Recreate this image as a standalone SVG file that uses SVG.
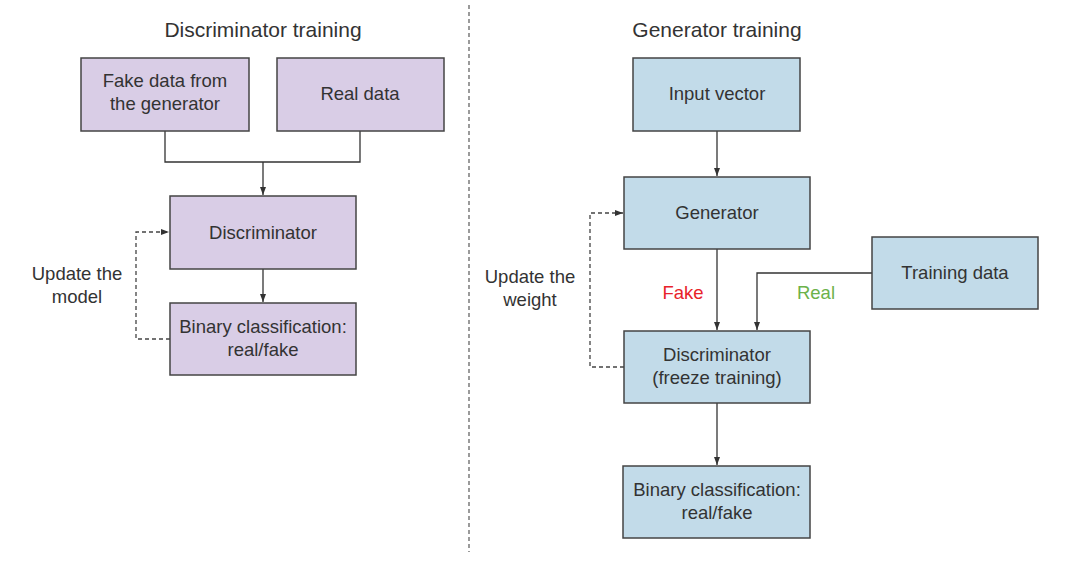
<svg xmlns="http://www.w3.org/2000/svg" width="1077" height="583" viewBox="0 0 1077 583">
<defs>
<style>
text{font-family:"Liberation Sans",Arial,sans-serif;fill:#333;text-anchor:middle}
.t{font-size:21px}
.n{font-size:18.5px}
.p{fill:#d9cde6;stroke:#444;stroke-width:1.5}
.b{fill:#c2dbe9;stroke:#444;stroke-width:1.5}
.c{fill:none;stroke:#333;stroke-width:1.3}
.d{fill:none;stroke:#444;stroke-width:1.3;stroke-dasharray:4 3}
</style>
<marker id="ah" viewBox="0 0 10 10" refX="10" refY="5" markerWidth="8" markerHeight="6" orient="auto" markerUnits="userSpaceOnUse" preserveAspectRatio="none"><path d="M0,0 L10,5 L0,10 z" fill="#333"/></marker>
</defs>
<rect width="1077" height="583" fill="#fff"/>
<line x1="469" y1="5" x2="469" y2="552" stroke="#666" stroke-width="1.3" stroke-dasharray="4 3"/>
<text class="t" x="263" y="37">Discriminator training</text>
<text class="t" x="717" y="37">Generator training</text>
<g id="connectors">
<polyline class="c" points="165,131 165,162 360,162 360,131"/>
<line class="c" x1="263" y1="162" x2="263" y2="195" marker-end="url(#ah)"/>
<line class="c" x1="263" y1="269" x2="263" y2="302" marker-end="url(#ah)"/>
<polyline class="d" points="170,339 136,339 136,232 169,232" marker-end="url(#ah)"/>
<line class="c" x1="717" y1="131" x2="717" y2="176" marker-end="url(#ah)"/>
<line class="c" x1="717" y1="249" x2="717" y2="330" marker-end="url(#ah)"/>
<polyline class="c" points="872,273 757,273 757,330" marker-end="url(#ah)"/>
<line class="c" x1="717" y1="403" x2="717" y2="465" marker-end="url(#ah)"/>
<polyline class="d" points="624,367 590,367 590,213 623,213" marker-end="url(#ah)"/>
<text class="n" x="77" y="280">Update the</text>
<text class="n" x="77" y="303">model</text>
<text class="n" x="530" y="283">Update the</text>
<text class="n" x="530" y="306">weight</text>
<text class="n" x="683" y="299" style="fill:#e8232a">Fake</text>
<text class="n" x="816" y="299" style="fill:#6cb24a">Real</text>
</g>
<g id="fake-data"><rect class="p" x="81" y="58" width="168" height="73"/><text class="n" x="165" y="87">Fake data from</text><text class="n" x="165" y="110">the generator</text></g>
<g id="real-data"><rect class="p" x="277" y="58" width="167" height="73"/><text class="n" x="360" y="100">Real data</text></g>
<g id="discriminator-left"><rect class="p" x="170" y="196" width="186" height="73"/><text class="n" x="263" y="239">Discriminator</text></g>
<g id="binary-left"><rect class="p" x="170" y="303" width="186" height="72"/><text class="n" x="263" y="333">Binary classification:</text><text class="n" x="263" y="356">real/fake</text></g>
<g id="input-vector"><rect class="b" x="633" y="58" width="167" height="73"/><text class="n" x="717" y="100">Input vector</text></g>
<g id="generator"><rect class="b" x="624" y="177" width="186" height="72"/><text class="n" x="717" y="219">Generator</text></g>
<g id="training-data"><rect class="b" x="872" y="237" width="166" height="72"/><text class="n" x="955" y="279">Training data</text></g>
<g id="discriminator-right"><rect class="b" x="624" y="331" width="186" height="72"/><text class="n" x="717" y="361">Discriminator</text><text class="n" x="717" y="384">(freeze training)</text></g>
<g id="binary-right"><rect class="b" x="623" y="466" width="187" height="72"/><text class="n" x="717" y="496">Binary classification:</text><text class="n" x="717" y="519">real/fake</text></g>
</svg>
